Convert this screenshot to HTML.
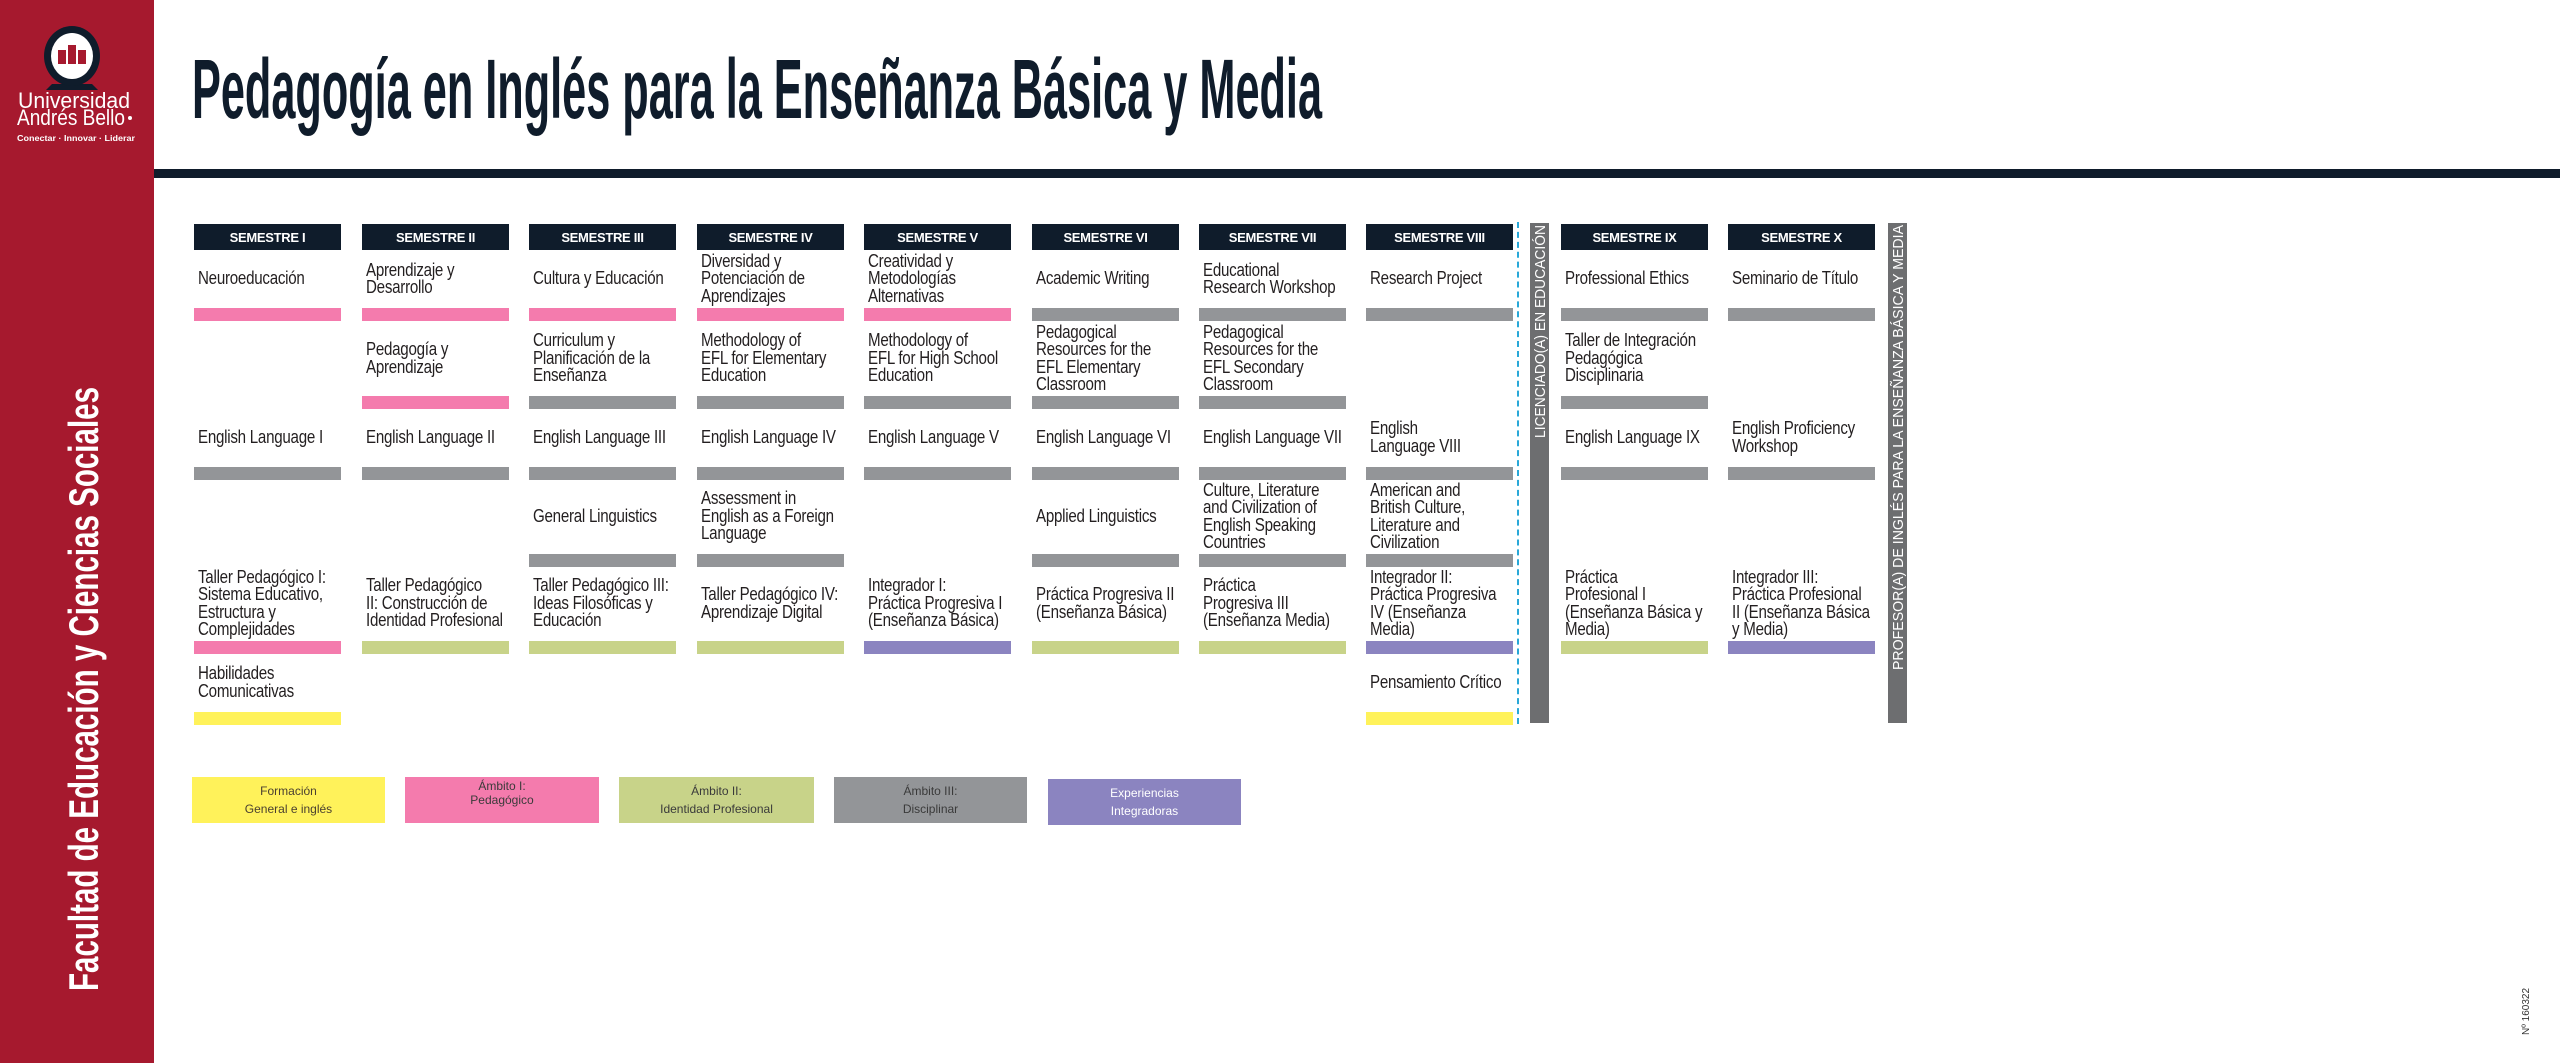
<!DOCTYPE html>
<html><head><meta charset="utf-8"><style>
body{margin:0;width:2560px;height:1063px;position:relative;background:#fff;overflow:hidden;font-family:"Liberation Sans Narrow","Liberation Sans",sans-serif;font-stretch:condensed}
.a{position:absolute}
.hd{position:absolute;top:224px;height:26px;width:147px;background:#0f1c2b;color:#fff;font-weight:bold;font-size:13px;display:flex;align-items:center;justify-content:center;letter-spacing:-0.3px}
.t{position:absolute;width:150px;display:flex;flex-direction:column;justify-content:center;color:#231f20;padding-left:4px}
.t div{font-size:18px;line-height:17.5px;white-space:nowrap;transform:scaleX(.84);transform-origin:left center;letter-spacing:-0.3px}
.b{position:absolute;height:13px;width:147px}
.pk{background:#f47bad}.gy{background:#939598}.gr{background:#c8d389}.pu{background:#8b84c0}.ye{background:#fff25a}
.lg{position:absolute;top:777px;height:46px;display:flex;flex-direction:column;align-items:center;justify-content:center;font-size:12px;line-height:18px;color:#3a3a3a}
</style></head><body>
<div class="a" style="left:0;top:0;width:154px;height:1063px;background:#a6192e"></div>
<svg class="a" style="left:0;top:0" width="154" height="1063">
<path d="M52 84 L46 90 L98 90 L92 84 Z" fill="#0f1c2b"/>
<ellipse cx="72" cy="56" rx="28" ry="30" fill="#0f1c2b"/>
<ellipse cx="72" cy="56" rx="21" ry="23" fill="#fff"/>
<rect x="58" y="50" width="8" height="14" fill="#a6192e"/><rect x="68" y="45" width="8" height="19" fill="#a6192e"/><rect x="78" y="50" width="8" height="14" fill="#a6192e"/>
<text x="18" y="108" fill="#fff" font-family="Liberation Sans" font-size="22" textLength="112" lengthAdjust="spacingAndGlyphs">Universidad</text>
<text x="17" y="125" fill="#fff" font-family="Liberation Sans" font-size="22" textLength="108" lengthAdjust="spacingAndGlyphs">Andrés Bello</text>
<circle cx="130" cy="118" r="2" fill="#fff"/>
<text x="17" y="141" fill="#fff" font-family="Liberation Sans" font-weight="bold" font-size="8.5" textLength="118" lengthAdjust="spacingAndGlyphs">Conectar · Innovar · Liderar</text>
<text transform="translate(98,991) rotate(-90)" fill="#fff" font-family="Liberation Sans Narrow,Liberation Sans" font-weight="bold" font-size="42" textLength="604" lengthAdjust="spacingAndGlyphs">Facultad de Educación y Ciencias Sociales</text>
</svg>
<svg class="a" style="left:0;top:0" width="2560" height="180">
<text x="192" y="118" fill="#0f1c2b" font-family="Liberation Sans Narrow,Liberation Sans" font-weight="bold" font-size="84" textLength="1130" lengthAdjust="spacingAndGlyphs">Pedagogía en Inglés para la Enseñanza Básica y Media</text>
</svg>
<div class="a" style="left:154px;top:169px;width:2406px;height:9px;background:#0f1c2b"></div>

<div class="hd" style="left:194px">SEMESTRE I</div>
<div class="hd" style="left:362px">SEMESTRE II</div>
<div class="hd" style="left:529px">SEMESTRE III</div>
<div class="hd" style="left:697px">SEMESTRE IV</div>
<div class="hd" style="left:864px">SEMESTRE V</div>
<div class="hd" style="left:1032px">SEMESTRE VI</div>
<div class="hd" style="left:1199px">SEMESTRE VII</div>
<div class="hd" style="left:1366px">SEMESTRE VIII</div>
<div class="hd" style="left:1561px">SEMESTRE IX</div>
<div class="hd" style="left:1728px">SEMESTRE X</div>

<div class="a" style="left:1517px;top:222px;height:502px;border-left:2px dashed #29a8d8"></div>
<div class="a" style="left:1530px;top:223px;width:19px;height:500px;background:#6d6e70"></div>
<svg class="a" style="left:1530px;top:223px" width="19" height="500"><text transform="translate(15,215) rotate(-90)" fill="#fff" font-family="Liberation Sans" font-size="15" textLength="213" lengthAdjust="spacingAndGlyphs">LICENCIADO(A) EN EDUCACIÓN</text></svg>
<div class="a" style="left:1888px;top:223px;width:19px;height:500px;background:#6d6e70"></div>
<svg class="a" style="left:1888px;top:223px" width="19" height="500"><text transform="translate(15,447) rotate(-90)" fill="#fff" font-family="Liberation Sans" font-size="15" textLength="445" lengthAdjust="spacingAndGlyphs">PROFESOR(A) DE INGLÉS PARA LA ENSEÑANZA BÁSICA Y MEDIA</text></svg>
<svg class="a" style="left:2515px;top:975px" width="20" height="65"><text transform="translate(14,60) rotate(-90)" fill="#333" font-family="Liberation Sans" font-size="10">Nº 160322</text></svg>

<div id="g"></div>
<script>
var X=[194,362,529,697,864,1032,1199,1366,1561,1728];
var R=[[250,308],[321,396],[408,467],[479,554],[566,641],[653,712]];
var C=[
[["Neuroeducación","pk"],["",""],["English Language I","gy"],["",""],["Taller Pedagógico I:<br>Sistema Educativo,<br>Estructura y<br>Complejidades","pk"],["Habilidades<br>Comunicativas","ye"]],
[["Aprendizaje y<br>Desarrollo","pk"],["Pedagogía y<br>Aprendizaje","pk"],["English Language II","gy"],["",""],["Taller Pedagógico<br>II: Construcción de<br>Identidad Profesional","gr"]],
[["Cultura y Educación","pk"],["Curriculum y<br>Planificación de la<br>Enseñanza","gy"],["English Language III","gy"],["General Linguistics","gy"],["Taller Pedagógico III:<br>Ideas Filosóficas y<br>Educación","gr"]],
[["Diversidad y<br>Potenciación de<br>Aprendizajes","pk"],["Methodology of<br>EFL for Elementary<br>Education","gy"],["English Language IV","gy"],["Assessment in<br>English as a Foreign<br>Language","gy"],["Taller Pedagógico IV:<br>Aprendizaje Digital","gr"]],
[["Creatividad y<br>Metodologías<br>Alternativas","pk"],["Methodology of<br>EFL for High School<br>Education","gy"],["English Language V","gy"],["",""],["Integrador I:<br>Práctica Progresiva I<br>(Enseñanza Básica)","pu"]],
[["Academic Writing","gy"],["Pedagogical<br>Resources for the<br>EFL Elementary<br>Classroom","gy"],["English Language VI","gy"],["Applied Linguistics","gy"],["Práctica Progresiva II<br>(Enseñanza Básica)","gr"]],
[["Educational<br>Research Workshop","gy"],["Pedagogical<br>Resources for the<br>EFL Secondary<br>Classroom","gy"],["English Language VII","gy"],["Culture, Literature<br>and Civilization of<br>English Speaking<br>Countries","gy"],["Práctica<br>Progresiva III<br>(Enseñanza Media)","gr"]],
[["Research Project","gy"],["",""],["English<br>Language VIII","gy"],["American and<br>British Culture,<br>Literature and<br>Civilization","gy"],["Integrador II:<br>Práctica Progresiva<br>IV (Enseñanza<br>Media)","pu"],["Pensamiento Crítico","ye"]],
[["Professional Ethics","gy"],["Taller de Integración<br>Pedagógica<br>Disciplinaria","gy"],["English Language IX","gy"],["",""],["Práctica<br>Profesional I<br>(Enseñanza Básica y<br>Media)","gr"]],
[["Seminario de Título","gy"],["",""],["English Proficiency<br>Workshop","gy"],["",""],["Integrador III:<br>Práctica Profesional<br>II (Enseñanza Básica<br>y Media)","pu"]]
];
var h="";
for(var i=0;i<10;i++)for(var r=0;r<C[i].length;r++){var c=C[i][r];
if(c[0])h+='<div class="t" style="left:'+X[i]+'px;top:'+R[r][0]+'px;height:'+(R[r][1]-R[r][0])+'px"><div>'+c[0]+'</div></div>';
if(c[1])h+='<div class="b '+c[1]+'" style="left:'+X[i]+'px;top:'+R[r][1]+'px"></div>';}
document.getElementById("g").innerHTML=h;
</script>

<div class="lg" style="left:192px;width:193px;background:#fff25a;color:#4a4030">Formación<span>General e inglés</span></div>
<div class="lg" style="left:405px;width:194px;background:#f47bad;line-height:14px;justify-content:flex-start;padding-top:2px;height:44px">Ámbito I:<span>Pedagógico</span></div>
<div class="lg" style="left:619px;width:195px;background:#c8d389">Ámbito II:<span>Identidad Profesional</span></div>
<div class="lg" style="left:834px;width:193px;background:#939598">Ámbito III:<span>Disciplinar</span></div>
<div class="lg" style="left:1048px;width:193px;top:779px;background:#8b84c0;color:#fff">Experiencias<span>Integradoras</span></div>
</body></html>
